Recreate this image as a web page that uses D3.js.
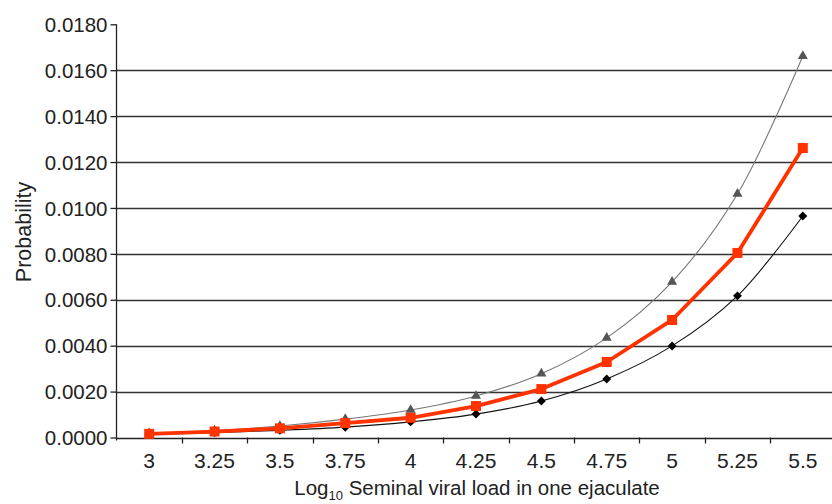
<!DOCTYPE html>
<html><head><meta charset="utf-8">
<script src="https://cdn.jsdelivr.net/npm/d3@7"></script>
<style>
body{margin:0;background:#fff;}
svg{display:block;font-family:"Liberation Sans",Arial,sans-serif;}
</style></head>
<body><svg id="c" width="832" height="504"></svg>
<script>
const categories = ["3","3.25","3.5","3.75","4","4.25","4.5","4.75","5","5.25","5.5"];
const upperValues = [0.00018,0.00030,0.00050,0.00080,0.00120,0.00181,0.00278,0.00434,0.00678,0.01061,0.01662];
const meanValues  = [0.00016,0.00026,0.00040,0.00063,0.00086,0.00137,0.00211,0.00329,0.00512,0.00804,0.01261];
const lowerValues = [0.00014,0.00021,0.00031,0.00045,0.00068,0.00102,0.00159,0.00255,0.00399,0.00617,0.00965];
const yTicks = [0,0.002,0.004,0.006,0.008,0.010,0.012,0.014,0.016,0.018];

const svg = d3.select("#c");
const x = d3.scaleBand().domain(categories).range([116.5, 835.5]).padding(0);
const y = d3.scaleLinear().domain([0, 0.018]).range([437.5, 24.3]);
const xc = d => x(d) + x.bandwidth()/2;

// gridlines
svg.append("g").selectAll("line").data(yTicks.filter(v => v > 0 && v < 0.018)).join("line")
  .attr("x1", 116.5).attr("x2", 832).attr("y1", d => Math.round(y(d))+0.5).attr("y2", d => Math.round(y(d))+0.5)
  .attr("stroke", "#333").attr("stroke-width", 1.3);

// y axis
const yAxis = d3.axisLeft(y).tickValues(yTicks).tickFormat(d3.format(".4f")).tickSize(6).tickSizeOuter(0);
const gy = svg.append("g").attr("transform","translate(116.5,0)").call(yAxis);
gy.select(".domain").attr("stroke","#222").attr("stroke-width",1.3).attr("d", `M0,${y(0.018)}V${y(0)+3}`);
gy.selectAll(".tick line").attr("stroke","#222").attr("stroke-width",1.3);
gy.selectAll(".tick text").attr("font-size",20.5).attr("fill","#222").attr("x",-9).attr("dy","0.35em")
  .attr("font-family","Liberation Sans, Arial, sans-serif");

// x axis
svg.append("line").attr("x1",116.5).attr("x2",832).attr("y1",Math.round(y(0))+0.5).attr("y2",Math.round(y(0))+0.5)
  .attr("stroke","#222").attr("stroke-width",1.3);
const bounds = categories.slice(1).map(c => x(c));
svg.append("g").selectAll("line").data(bounds).join("line")
  .attr("x1", d => Math.round(d)+0.5).attr("x2", d => Math.round(d)+0.5)
  .attr("y1", y(0)).attr("y2", y(0)+6).attr("stroke","#222").attr("stroke-width",1.3);
svg.append("g").selectAll("text").data(categories).join("text")
  .attr("x", d => xc(d)).attr("y", 468).attr("text-anchor","middle")
  .attr("font-size",21).attr("fill","#222").text(d => d);

// axis titles
svg.append("text").attr("transform","translate(31,232) rotate(-90)").attr("text-anchor","middle")
  .attr("font-size",21.5).attr("fill","#222").text("Probability");
const xt = svg.append("text").attr("x",477).attr("y",495).attr("text-anchor","middle").attr("font-size",20.5).attr("fill","#222");
xt.append("tspan").text("Log");
xt.append("tspan").attr("font-size",13).attr("dy",5).text("10");
xt.append("tspan").attr("dy",-5).text(" Seminal viral load in one ejaculate");

// lines
const smooth = d3.line().x((d,i) => xc(categories[i])).y(d => y(d)).curve(d3.curveCatmullRom.alpha(0.5));
const straight = d3.line().x((d,i) => xc(categories[i])).y(d => y(d));

svg.append("path").attr("d", smooth(upperValues)).attr("fill","none").attr("stroke","#777").attr("stroke-width",1.1);
svg.append("path").attr("d", smooth(lowerValues)).attr("fill","none").attr("stroke","#111").attr("stroke-width",1.1);
svg.append("path").attr("d", straight(meanValues)).attr("fill","none").attr("stroke","#ff3300").attr("stroke-width",3.8).attr("stroke-linejoin","round");

// markers
const tri = d3.symbol().type(d3.symbolTriangle).size(44);
svg.append("g").selectAll("path").data(upperValues).join("path")
  .attr("d", tri).attr("transform",(d,i)=>`translate(${xc(categories[i])},${y(d)})`).attr("fill","#555");
const dia = d3.symbol().type(d3.symbolSquare).size(40);
svg.append("g").selectAll("path").data(lowerValues).join("path")
  .attr("d", dia).attr("transform",(d,i)=>`translate(${xc(categories[i])},${y(d)}) rotate(45)`).attr("fill","#000");
svg.append("g").selectAll("rect").data(meanValues).join("rect")
  .attr("x",(d,i)=>xc(categories[i])-5).attr("y",d=>y(d)-5).attr("width",10).attr("height",10).attr("fill","#ff3300");
</script></body></html>
